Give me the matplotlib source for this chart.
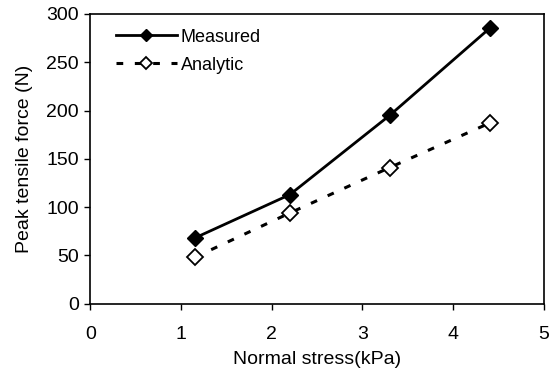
import matplotlib
matplotlib.use('Agg')
from matplotlib import pyplot as plt

plt.rcParams['font.family'] = ['Liberation Sans', 'DejaVu Sans']

stress = [1.15, 2.2, 3.3, 4.4]
measured = [68, 113, 195, 285]
analytic = [48, 94, 141, 187]

fig = plt.figure(figsize=(5.5, 3.76), dpi=100)
ax = fig.add_axes([0.164, 0.192, 0.825, 0.771])

ax.plot(stress, measured, color='black', lw=2, marker='D', ms=8.5,
        mfc='black', mec='black', label='Measured')
ax.plot(stress, analytic, color='black', lw=2.2, ls=(0, (2.2, 3.8)), marker='D',
        ms=8.5, mfc='white', mec='black', mew=1.3, label='Analytic')

ax.set_xlim(0, 5)
ax.set_ylim(0, 300)
ax.set_xticks([0, 1, 2, 3, 4, 5])
ax.set_yticks([0, 50, 100, 150, 200, 250, 300])
ax.tick_params(labelsize=14, direction='out', length=4, width=1)
ax.tick_params(axis='x', pad=12)
ax.tick_params(axis='y', pad=4)
ax.set_xlabel('Normal stress(kPa)', fontsize=14, labelpad=6)
ax.set_ylabel('Peak tensile force (N)', fontsize=14, labelpad=10)
for s in ax.spines.values():
    s.set_linewidth(1.2)

ax.legend(loc='upper left', frameon=False, fontsize=13, handlelength=3.4,
          handletextpad=0.2, borderaxespad=0.4, borderpad=0.5,
          labelspacing=0.6, markerscale=0.75, bbox_to_anchor=(0.02, 1.005))

fig.savefig('out.png', dpi=100)
